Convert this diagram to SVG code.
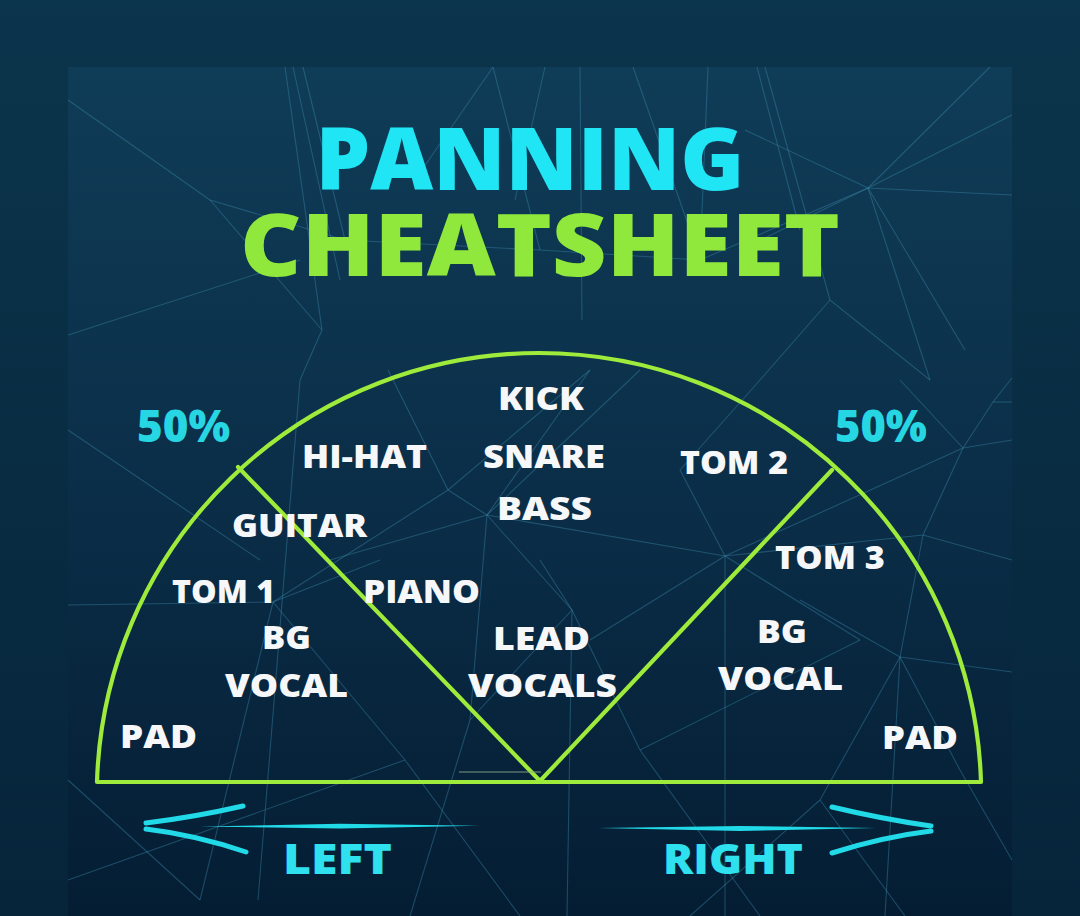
<svg xmlns="http://www.w3.org/2000/svg" width="1080" height="916" viewBox="0 0 1080 916">
  <defs>
    <linearGradient id="outer" x1="0" y1="0" x2="0" y2="1">
      <stop offset="0" stop-color="#0b354c"/>
      <stop offset="1" stop-color="#06243a"/>
    </linearGradient>
    <linearGradient id="panel" x1="0" y1="0" x2="0" y2="1">
      <stop offset="0" stop-color="#0f3c57"/>
      <stop offset="0.5" stop-color="#0b2e48"/>
      <stop offset="1" stop-color="#041d33"/>
    </linearGradient>
    <style>
      .net { stroke: #3f8fae; stroke-width: 1.1; opacity: 0.4; fill: none; }
      .lbl { font-family: "Open Sans", "Liberation Sans", sans-serif; font-weight: 800; font-size: 31px; fill: #f5f7f9; }
      .pct { font-family: "Open Sans", "Liberation Sans", sans-serif; font-weight: 800; font-size: 44px; fill: #27d6e3; }
      .dir { font-family: "Open Sans", "Liberation Sans", sans-serif; font-weight: 800; font-size: 42px; fill: #2fe0ee; }
      .title { font-family: "Open Sans", "Liberation Sans", sans-serif; font-weight: 800; font-size: 86px; }
      .green { stroke: #9eeb3c; stroke-width: 4.2; fill: none; stroke-linecap: round; stroke-linejoin: round; }
      .arw { stroke: #22d9e8; fill: none; stroke-linecap: round; }
    </style>
  </defs>

  <rect x="0" y="0" width="1080" height="916" fill="url(#outer)"/>
  <rect x="68" y="67" width="944" height="849" fill="url(#panel)"/>

  <g id="background-network">
    <line class="net" x1="285" y1="67" x2="322" y2="330"/>
    <line class="net" x1="293" y1="67" x2="340" y2="280"/>
    <line class="net" x1="303" y1="67" x2="345" y2="240"/>
    <line class="net" x1="493" y1="67" x2="415" y2="180"/>
    <line class="net" x1="493" y1="67" x2="540" y2="250"/>
    <line class="net" x1="545" y1="67" x2="515" y2="200"/>
    <line class="net" x1="580" y1="67" x2="582" y2="320"/>
    <line class="net" x1="633" y1="67" x2="690" y2="230"/>
    <line class="net" x1="708" y1="67" x2="700" y2="260"/>
    <line class="net" x1="757" y1="67" x2="800" y2="230"/>
    <line class="net" x1="765" y1="67" x2="830" y2="300"/>
    <line class="net" x1="990" y1="67" x2="868" y2="188"/>
    <line class="net" x1="1012" y1="115" x2="868" y2="188"/>
    <line class="net" x1="1012" y1="195" x2="868" y2="188"/>
    <line class="net" x1="868" y1="188" x2="740" y2="250"/>
    <line class="net" x1="868" y1="188" x2="745" y2="130"/>
    <line class="net" x1="868" y1="188" x2="930" y2="380"/>
    <line class="net" x1="868" y1="188" x2="965" y2="350"/>
    <line class="net" x1="68" y1="100" x2="210" y2="200"/>
    <line class="net" x1="210" y1="200" x2="322" y2="330"/>
    <line class="net" x1="210" y1="200" x2="345" y2="240"/>
    <line class="net" x1="68" y1="335" x2="300" y2="260"/>
    <line class="net" x1="68" y1="430" x2="260" y2="560"/>
    <line class="net" x1="345" y1="240" x2="540" y2="250"/>
    <line class="net" x1="540" y1="250" x2="700" y2="260"/>
    <line class="net" x1="700" y1="260" x2="868" y2="188"/>
    <line class="net" x1="322" y1="330" x2="300" y2="380"/>
    <line class="net" x1="300" y1="380" x2="258" y2="900"/>
    <line class="net" x1="388" y1="370" x2="448" y2="490"/>
    <line class="net" x1="448" y1="490" x2="487" y2="515"/>
    <line class="net" x1="448" y1="490" x2="590" y2="370"/>
    <line class="net" x1="487" y1="515" x2="590" y2="370"/>
    <line class="net" x1="487" y1="515" x2="640" y2="370"/>
    <line class="net" x1="487" y1="515" x2="330" y2="560"/>
    <line class="net" x1="487" y1="515" x2="725" y2="556"/>
    <line class="net" x1="487" y1="515" x2="470" y2="720"/>
    <line class="net" x1="273" y1="602" x2="448" y2="490"/>
    <line class="net" x1="273" y1="602" x2="68" y2="605"/>
    <line class="net" x1="273" y1="602" x2="405" y2="760"/>
    <line class="net" x1="273" y1="602" x2="200" y2="900"/>
    <line class="net" x1="273" y1="602" x2="380" y2="560"/>
    <line class="net" x1="572" y1="610" x2="487" y2="515"/>
    <line class="net" x1="572" y1="610" x2="540" y2="560"/>
    <line class="net" x1="572" y1="610" x2="567" y2="916"/>
    <line class="net" x1="572" y1="610" x2="640" y2="750"/>
    <line class="net" x1="572" y1="610" x2="470" y2="720"/>
    <line class="net" x1="725" y1="556" x2="680" y2="470"/>
    <line class="net" x1="725" y1="556" x2="725" y2="916"/>
    <line class="net" x1="725" y1="556" x2="923" y2="535"/>
    <line class="net" x1="725" y1="556" x2="963" y2="448"/>
    <line class="net" x1="725" y1="556" x2="590" y2="640"/>
    <line class="net" x1="725" y1="556" x2="860" y2="640"/>
    <line class="net" x1="963" y1="448" x2="900" y2="380"/>
    <line class="net" x1="963" y1="448" x2="1012" y2="440"/>
    <line class="net" x1="963" y1="448" x2="923" y2="535"/>
    <line class="net" x1="963" y1="448" x2="993" y2="402"/>
    <line class="net" x1="993" y1="402" x2="1012" y2="378"/>
    <line class="net" x1="993" y1="402" x2="1012" y2="402"/>
    <line class="net" x1="923" y1="535" x2="900" y2="657"/>
    <line class="net" x1="923" y1="535" x2="1012" y2="560"/>
    <line class="net" x1="900" y1="657" x2="800" y2="600"/>
    <line class="net" x1="900" y1="657" x2="1012" y2="672"/>
    <line class="net" x1="900" y1="657" x2="885" y2="916"/>
    <line class="net" x1="900" y1="657" x2="820" y2="800"/>
    <line class="net" x1="900" y1="657" x2="960" y2="770"/>
    <line class="net" x1="820" y1="800" x2="905" y2="916"/>
    <line class="net" x1="820" y1="800" x2="690" y2="916"/>
    <line class="net" x1="960" y1="770" x2="1012" y2="860"/>
    <line class="net" x1="470" y1="720" x2="410" y2="916"/>
    <line class="net" x1="405" y1="760" x2="68" y2="880"/>
    <line class="net" x1="405" y1="760" x2="520" y2="916"/>
    <line class="net" x1="68" y1="780" x2="200" y2="900"/>
    <line class="net" x1="640" y1="750" x2="760" y2="916"/>
    <line class="net" x1="640" y1="750" x2="860" y2="640"/>
    <line class="net" x1="760" y1="380" x2="680" y2="470"/>
    <line class="net" x1="830" y1="300" x2="760" y2="380"/>
    <line class="net" x1="830" y1="300" x2="930" y2="380"/>
  </g>

  <g id="title">
    <text class="title" x="530" y="190" text-anchor="middle" fill="#1fe5f4" textLength="429" lengthAdjust="spacingAndGlyphs">PANNING</text>
    <text class="title" x="540" y="276" text-anchor="middle" fill="#8fe83b" textLength="600" lengthAdjust="spacingAndGlyphs">CHEATSHEET</text>
  </g>

  <g id="connectors">
    <path class="green" d="M97,782 A442.2,442.2 0 0 1 539,353 A442.2,442.2 0 0 1 981,782 Z"/>
    <line class="green" x1="238" y1="467" x2="540" y2="781"/>
    <line class="green" x1="540" y1="781" x2="832" y2="470"/>
    <line x1="459" y1="772" x2="541" y2="772" stroke="#8aa88a" stroke-width="1.5" opacity="0.6"/>
  </g>

  <g id="label-50-left"><text class="pct" x="137" y="442" textLength="93" lengthAdjust="spacingAndGlyphs">50%</text></g>
  <g id="label-50-right"><text class="pct" x="835" y="442" textLength="92" lengthAdjust="spacingAndGlyphs">50%</text></g>

  <g id="node-kick"><text class="lbl" x="498" y="410" textLength="86" lengthAdjust="spacingAndGlyphs">KICK</text></g>
  <g id="node-hihat"><text class="lbl" x="302" y="468" textLength="125" lengthAdjust="spacingAndGlyphs">HI-HAT</text></g>
  <g id="node-snare"><text class="lbl" x="483" y="468" textLength="122" lengthAdjust="spacingAndGlyphs">SNARE</text></g>
  <g id="node-bass"><text class="lbl" x="497" y="520" textLength="95" lengthAdjust="spacingAndGlyphs">BASS</text></g>
  <g id="node-tom2"><text class="lbl" x="680" y="474" textLength="108" lengthAdjust="spacingAndGlyphs">TOM 2</text></g>
  <g id="node-guitar"><text class="lbl" x="232" y="537" textLength="135" lengthAdjust="spacingAndGlyphs">GUITAR</text></g>
  <g id="node-tom3"><text class="lbl" x="775" y="569" textLength="110" lengthAdjust="spacingAndGlyphs">TOM 3</text></g>
  <g id="node-tom1"><text class="lbl" x="172" y="603" textLength="103" lengthAdjust="spacingAndGlyphs">TOM 1</text></g>
  <g id="node-piano"><text class="lbl" x="363" y="603" textLength="117" lengthAdjust="spacingAndGlyphs">PIANO</text></g>
  <g id="node-bgvocal-left">
    <text class="lbl" x="262" y="649" textLength="49" lengthAdjust="spacingAndGlyphs">BG</text>
    <text class="lbl" x="225" y="697" textLength="123" lengthAdjust="spacingAndGlyphs">VOCAL</text>
  </g>
  <g id="node-leadvocals">
    <text class="lbl" x="493" y="650" textLength="97" lengthAdjust="spacingAndGlyphs">LEAD</text>
    <text class="lbl" x="468" y="697" textLength="149" lengthAdjust="spacingAndGlyphs">VOCALS</text>
  </g>
  <g id="node-bgvocal-right">
    <text class="lbl" x="757" y="643" textLength="50" lengthAdjust="spacingAndGlyphs">BG</text>
    <text class="lbl" x="718" y="690" textLength="125" lengthAdjust="spacingAndGlyphs">VOCAL</text>
  </g>
  <g id="node-pad-left"><text class="lbl" x="120" y="748" textLength="77" lengthAdjust="spacingAndGlyphs">PAD</text></g>
  <g id="node-pad-right"><text class="lbl" x="882" y="749" textLength="76" lengthAdjust="spacingAndGlyphs">PAD</text></g>

  <g id="arrow-left">
    <path d="M200,826.5 L340,823.8 L478,825.8 L340,828.6 Z" fill="#22d9e8"/>
    <path class="arw" stroke-width="5" d="M243,806 Q195,817 146,823"/>
    <path class="arw" stroke-width="5" d="M146,829 Q196,835 246,852"/>
    <text class="dir" x="283" y="874" textLength="109" lengthAdjust="spacingAndGlyphs">LEFT</text>
  </g>
  <g id="arrow-right">
    <path d="M598,828 L740,826 L876,828 L740,831 Z" fill="#22d9e8"/>
    <path class="arw" stroke-width="5" d="M832,807 Q882,819 931,826"/>
    <path class="arw" stroke-width="5" d="M931,831 Q882,837 832,853"/>
    <text class="dir" x="663" y="874" textLength="140" lengthAdjust="spacingAndGlyphs">RIGHT</text>
  </g>
</svg>
